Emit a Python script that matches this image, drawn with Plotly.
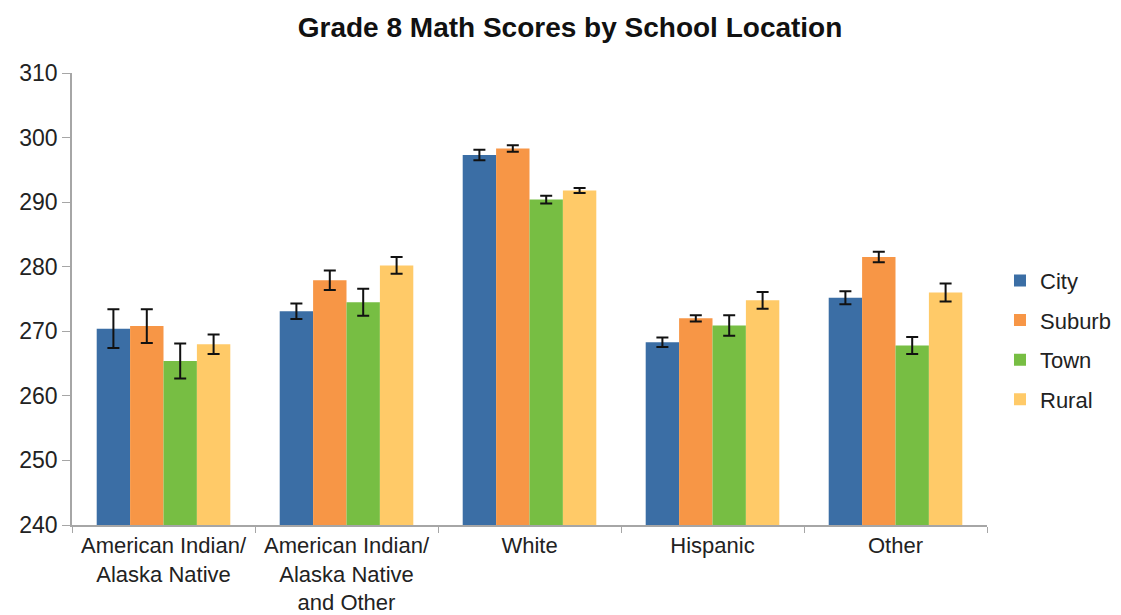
import plotly.graph_objects as go

categories = ["American Indian/<br>Alaska Native",
              "American Indian/<br>Alaska Native<br>and Other",
              "White", "Hispanic", "Other"]
series_names = ["City", "Suburb", "Town", "Rural"]
city = [270.4, 273.1, 297.3, 268.3, 275.2]
suburb = [270.8, 277.9, 298.3, 272.0, 281.5]
town = [265.4, 274.5, 290.4, 270.9, 267.8]
rural = [268.0, 280.2, 291.8, 274.8, 276.0]
city_err = [3.0, 1.2, 0.8, 0.75, 1.0]
suburb_err = [2.6, 1.5, 0.5, 0.5, 0.8]
town_err = [2.7, 2.1, 0.6, 1.6, 1.3]
rural_err = [1.5, 1.3, 0.4, 1.3, 1.4]
colors = ["#3B6EA5", "#F79646", "#77BE43", "#FFCA68"]

values = [city, suburb, town, rural]
errors = [city_err, suburb_err, town_err, rural_err]

fig = go.Figure()
for name, vals, errs, col in zip(series_names, values, errors, colors):
    fig.add_trace(go.Bar(
        x=categories, y=vals, name=name, legendgroup=name,
        marker=dict(color=col, line=dict(width=0)),
        error_y=dict(type="data", array=errs, visible=True,
                     color="#111111", thickness=2, width=6),
    ))

fig.update_layout(
    width=1113, height=607,
    barmode="group", bargap=0.27, bargroupgap=0,
    paper_bgcolor="white", plot_bgcolor="white",
    margin=dict(l=64, r=134, t=65, b=90, autoexpand=False),
    font=dict(family="Liberation Sans, Arial, sans-serif", size=23, color="#222222"),
    title=dict(text="<b>Grade 8 Math Scores by School Location</b>",
               x=0.505, xanchor="center", y=0.969, yanchor="middle",
               font=dict(size=28, color="#111111")),
    legend=dict(x=1.0142, xanchor="left", y=0.409, yanchor="middle",
                xref="paper", yref="paper",
                font=dict(size=22, color="#222222"),
                tracegroupgap=8, itemwidth=30),
    showlegend=True,
)
fig.update_xaxes(showline=True, linecolor="#A6A6A6", linewidth=1.5,
                 ticks="outside", tickson="boundaries", ticklen=6,
                 tickcolor="#A6A6A6", tickfont=dict(size=22), tickangle=0)
fig.update_yaxes(range=[240, 310], dtick=10, showgrid=False, zeroline=False,
                 showline=True, linecolor="#A6A6A6", linewidth=1.5,
                 ticks="outside", ticklen=8, tickcolor="#A6A6A6",
                 tickfont=dict(size=23))

fig.write_html("out.html")
